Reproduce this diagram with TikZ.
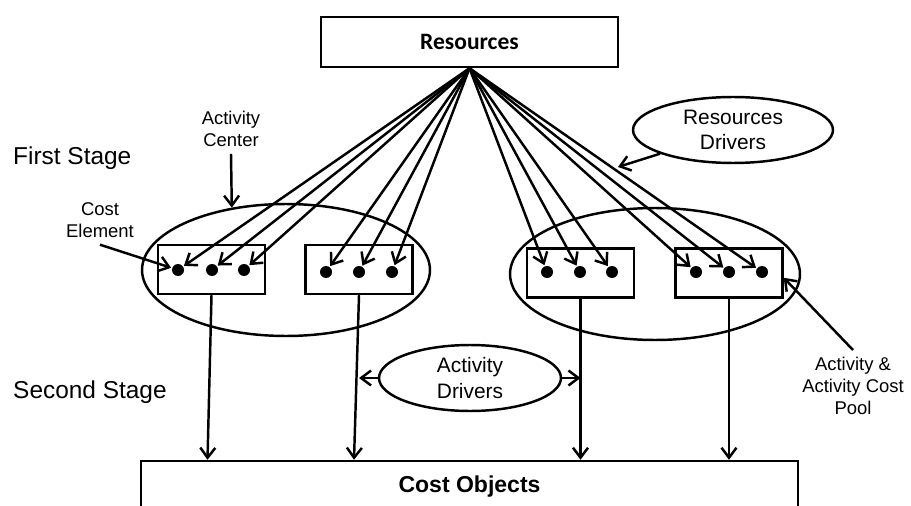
\documentclass[tikz,border=0pt]{standalone}
\usepackage{fontspec}
\setmainfont{Liberation Sans}
\newfontfamily\calibri{Carlito}
\usetikzlibrary{shapes.geometric,arrows.meta}

\begin{document}
\begin{tikzpicture}[x=0.02cm,y=-0.02cm,
	line width=1.4pt,
	>={Straight Barb[length=2mm,width=3mm]},
	box/.style={draw,rectangle,inner sep=0pt},
	pool/.style={box,minimum width=2.14cm,minimum height=0.98cm},
	oval/.style={draw,ellipse,inner sep=0pt,align=center},
	drv/.style={oval,font=\fontsize{11.9}{14.5}\selectfont},
	dot/.style={circle,fill,inner sep=0pt,minimum size=0.24cm},
	lbl/.style={align=center,font=\fontsize{10.5}{12.6}\selectfont},
	stage/.style={anchor=west,inner sep=0pt,font=\fontsize{13.9}{16}\selectfont}]
	\useasboundingbox (0,0) rectangle (911,506);

	\node[box,minimum width=5.94cm,minimum height=1cm,font={\calibri\bfseries\fontsize{13.4}{16}\selectfont}] (res) at (469.5,42) {Resources};
	\node[box,minimum width=13.14cm,minimum height=1.04cm,font={\bfseries\fontsize{13.1}{16}\selectfont}] (cost) at (469.5,487) {Cost Objects};

	\node[oval,minimum width=5.76cm,minimum height=2.64cm] (lcen) at (286,270) {};
	\node[oval,minimum width=5.8cm,minimum height=2.64cm] (rcen) at (655,274) {};

	\node[pool] (p1) at (211.5,269.5) {};
	\node[pool] (p2) at (359,269.5) {};
	\node[pool] (p3) at (580.5,273) {};
	\node[pool] (p4) at (729,273) {};

	\foreach \n/\x/\y in {a/178/270, b/212/270, c/244/270, d/326/272, e/359/272, f/392/272,
		g/547/272, h/580/272, i/612/272, j/696/272, k/729/272, l/762/272}
		\node[dot] (\n) at (\x,\y) {};
	\foreach \n in {a,...,l}
		\draw[->] (res.south) -- (\n);

	\node[drv,minimum width=4cm,minimum height=1.32cm] (rdrv) at (733,130) {Resources\\Drivers};
	\node[drv,minimum width=3.64cm,minimum height=1.32cm] (adrv) at (470,378) {Activity\\Drivers};

	\node[lbl] (actc) at (231,129) {Activity\\Center};
	\node[lbl] (cele) at (100,220) {Cost\\Element};
	\node[lbl] (acp) at (853,386) {Activity \&\\Activity Cost\\Pool};
	\node[stage] (first) at (12,158) {First Stage};
	\node[stage] (second) at (12,392) {Second Stage};

	\coordinate (rdend) at (618,167);
	\draw[->] (rdrv.198) -- (rdend);
	\draw[->] (actc.south) -- (lcen.131);
	\draw[->] (cele.south) -- (a);
	\draw[->] (acp.north) -- (p4.-5);
	\draw[->] (adrv.west) -- (p2.south |- adrv.west);
	\draw[->] (adrv.east) -- (p3.south |- adrv.east);

	\draw[->] (p1.south) -- ([xshift=-0.08cm]p1.south |- cost.north);
	\draw[->] (p2.south) -- ([xshift=-0.1cm]p2.south |- cost.north);
	\draw[->] (p3.south) -- (p3.south |- cost.north);
	\draw[->] (p4.south) -- (p4.south |- cost.north);
\end{tikzpicture}
\end{document}
